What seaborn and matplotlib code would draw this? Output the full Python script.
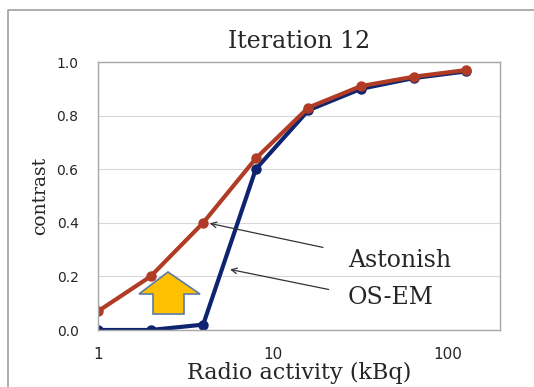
import numpy as np
import pandas as pd
import matplotlib.pyplot as plt
import matplotlib.transforms as mtransforms
from matplotlib.patches import Polygon
from matplotlib.lines import Line2D
import seaborn as sns

# data
activity = [1, 2, 4, 8, 16, 32, 64, 128]
astonish = [0.07, 0.20, 0.40, 0.64, 0.83, 0.91, 0.945, 0.97]
osem = [0.0, 0.0, 0.02, 0.60, 0.82, 0.90, 0.94, 0.965]
y_ticks = [0.0, 0.2, 0.4, 0.6, 0.8, 1.0]
x_ticks = [1, 10, 100]

red = '#B13C25'
navy = '#0E2470'

sns.set_style('white')
plt.rcParams['font.family'] = ['DejaVu Sans']

fig = plt.figure(figsize=(5.34, 3.87), dpi=100)
ax = fig.add_axes([98 / 534, 1 - 330 / 387, 402 / 534, 268 / 387])

# blue first so the red line sits on top
for vals, col in [(osem, navy), (astonish, red)]:
    sns.lineplot(x=activity, y=vals, color=col, linewidth=3,
                 marker='o', markersize=6, markeredgewidth=1.5,
                 markeredgecolor=col, ax=ax)

ax.set_xscale('log')
ax.set_xlim(1, 200)
ax.set_ylim(0, 1.0)
ax.set_yticks(y_ticks)
ax.set_yticklabels([f'{v:.1f}' for v in y_ticks], fontsize=10)
ax.set_xticks(x_ticks)
ax.set_xticklabels([str(v) for v in x_ticks], fontsize=11)
ax.xaxis.set_minor_locator(plt.NullLocator())
ax.tick_params(axis='y', length=0, pad=14)
ax.tick_params(axis='x', direction='in', length=5, color='#bbbbbb', pad=12)
ax.grid(axis='y', color='#d8d8d8', linewidth=0.8)
for s in ax.spines.values():
    s.set_color('#a8a8a8')
    s.set_linewidth(1)

ax.set_xlabel('Radio activity (kBq)', family='DejaVu Serif', fontsize=16, labelpad=0.5)
ax.set_ylabel('contrast', family='DejaVu Serif', fontsize=13.5, labelpad=5)
ax.set_title('Iteration 12', family='DejaVu Serif', fontsize=17, pad=10)

# labels with arrows
ax.annotate('', xy=(4.2, 0.40), xytext=(20.1, 0.306),
            arrowprops=dict(arrowstyle='->', color='#333333', lw=0.9))
ax.annotate('', xy=(5.5, 0.228), xytext=(21.7, 0.149),
            arrowprops=dict(arrowstyle='->', color='#333333', lw=0.9))
ax.text(27, 0.26, 'Astonish', family='DejaVu Serif', fontsize=17, va='center')
ax.text(27, 0.123, 'OS-EM', family='DejaVu Serif', fontsize=17, va='center')

# big yellow up-arrow, in pixel coords of the figure
pix = mtransforms.Affine2D().scale(1 / 534, -1 / 387).translate(0, 1) + fig.transFigure
arrow_pts = [(168, 272), (200, 294), (184, 294), (184, 314),
             (153, 314), (153, 294), (139, 294)]
fig.patches.append(Polygon(arrow_pts, closed=True, facecolor='#FFC000',
                           edgecolor='#5B7BA6', linewidth=1.2, transform=pix))

# outer frame (only left and top edges show)
fig.lines.append(Line2D([8, 8, 534], [387, 10, 10], color='#a0a0a0',
                        linewidth=1.2, transform=pix))

plt.savefig('out.png', dpi=100)
